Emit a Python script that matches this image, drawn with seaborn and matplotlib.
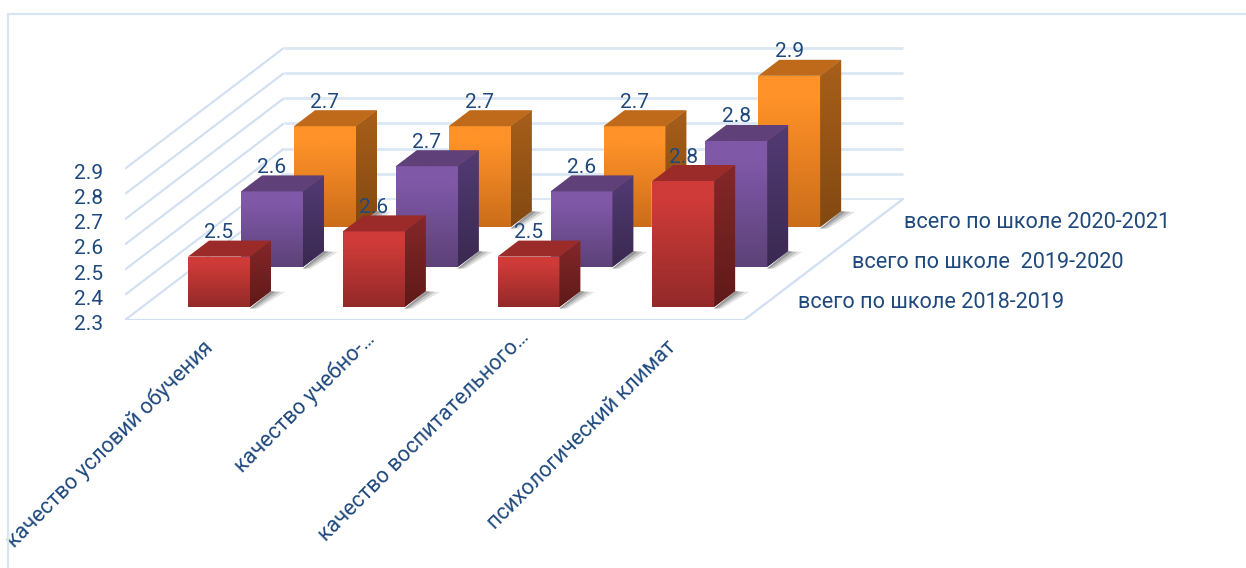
import matplotlib
matplotlib.use("Agg")
import matplotlib.pyplot as plt
import numpy as np
import pandas as pd
import seaborn as sns
from matplotlib.colors import LinearSegmentedColormap
from matplotlib.lines import Line2D
from matplotlib.patches import Polygon
from matplotlib.transforms import ScaledTranslation

categories = ["качество условий обучения", "качество учебно-…",
              "качество воспитательного…", "психологический климат"]
series_names = ["всего по школе 2018-2019", "всего по школе  2019-2020", "всего по школе 2020-2021"]
values_2018 = [2.5, 2.6, 2.5, 2.8]
values_2019 = [2.6, 2.7, 2.6, 2.8]
values_2020 = [2.7, 2.7, 2.7, 2.9]
value_ticks = [2.3, 2.4, 2.5, 2.6, 2.7, 2.8, 2.9]

# front / side / top colours, each (upper, lower)
styles = [
    dict(front=("#CE3B38", "#932A29"), side=("#84272A", "#5F1A18"), top="#9B2B29"),
    dict(front=("#8058A8", "#5C4278"), side=("#523B74", "#3A2951"), top="#5F4079"),
    dict(front=("#FF9228", "#CB6D1A"), side=("#A85F1A", "#824911"), top="#BF691A"),
]
TEXT = "#1F497D"
GRID = "#DCE7F4"

W, H = 1246, 568
PX_X = 154.75     # pixels per category
PX_Y = 252.0      # pixels per value unit
STEP_X, STEP_Y = 53, 40       # offset between series rows
DEPTH_X, DEPTH_Y = 21, 16     # bar depth
WALL_X, WALL_Y = 159, 121     # wall offset

sns.set_theme(style="white")
plt.rcParams["font.family"] = ["Roboto", "DejaVu Sans"]
FS = 15

fig = plt.figure(figsize=(W / 100, H / 100), dpi=100)


def place(left, bottom, width, height, **kw):
    return fig.add_axes([left / W, 1 - bottom / H, width / W, height / H], **kw)


def shift(label, px, py):
    label.set_transform(label.get_transform() + ScaledTranslation(px / 100, py / 100, fig.dpi_scale_trans))


# frame
fig.add_artist(Line2D([8 / W, 8 / W], [0, 1 - 14 / H], color="#D6E4F3", lw=1.6))
fig.add_artist(Line2D([8 / W, 1], [1 - 14 / H, 1 - 14 / H], color="#D6E4F3", lw=1.6))

# walls and floor, on the value scale of the front plane
base = place(125, 320, 4 * PX_X + WALL_X + 300, 151.2 + WALL_Y + 10, zorder=0)
base.patch.set_alpha(0)
base.set_xlim(-0.5, 3.5 + (WALL_X + 300) / PX_X)
base.set_ylim(2.3, 2.9 + (WALL_Y + 10) / PX_Y)
wx, wy = WALL_X / PX_X, WALL_Y / PX_Y
for v in value_ticks:
    base.plot([-0.5, -0.5 + wx], [v, v + wy], color="#D0DFF1", lw=1.5, solid_capstyle="butt")
    base.plot([-0.5 + wx, 3.5 + wx], [v + wy, v + wy], color=GRID, lw=2.0 if v > 2.3 else 1.4,
              solid_capstyle="butt")
base.plot([-0.5, 3.5, 3.5 + wx], [2.3, 2.3, 2.3 + wy], color="#D0DFF1", lw=1.6)
sns.despine(ax=base, left=True, bottom=True)
base.set_yticks(value_ticks, [f"{v:.1f}" for v in value_ticks], color=TEXT, fontsize=FS)
base.set_xticks(range(4), categories, color=TEXT, fontsize=FS * 1.04, rotation=45,
                ha="right", va="top", rotation_mode="anchor")
base.tick_params(length=0, axis="y", pad=16)
base.tick_params(length=0, axis="x", pad=0)
label_shift = [(0, -17), (7, -8), (7, -7), (-1, -17)]
for lab, (sx, sy) in zip(base.get_xticklabels(), label_shift):
    shift(lab, sx, sy)
for lab in base.get_yticklabels():
    shift(lab, 0, -2.5)
for k, name in enumerate(series_names):
    base.text(3.5 + (k + 1) * STEP_X / PX_X + 1.5 / PX_X, 2.3 + (17 + STEP_Y * k) / PX_Y, name,
              color=TEXT, fontsize=FS * 1.04, va="center", ha="left")

# bars: one axes per series row, back row first
all_values = [values_2018, values_2019, values_2020]
dx, dy = DEPTH_X / PX_X, DEPTH_Y / PX_Y
grad = np.linspace(1, 0, 64).reshape(-1, 1)
for k in (2, 1, 0):
    st = styles[k]
    ax = place(141.6 + STEP_X * k, 307 - STEP_Y * k, 4 * PX_X, 0.9 * PX_Y, zorder=3 - k)
    ax.patch.set_alpha(0)
    df = pd.DataFrame({"cat": categories, "val": all_values[k]})
    sns.barplot(data=df, x="cat", y="val", order=categories, color=st["front"][0], saturation=1,
                width=0.4, ax=ax, legend=False, errorbar=None)
    ax.set_xlim(-0.5, 3.5)
    ax.set_ylim(2.3, 3.2)
    cm_front = LinearSegmentedColormap.from_list(
        "f", [(0, st["front"][1]), (0.85, st["front"][0]), (1, st["front"][0])])
    cm_side = LinearSegmentedColormap.from_list("s", [st["side"][1], st["side"][0]])
    for p in list(ax.patches):
        x, w, v = p.get_x(), p.get_width(), p.get_height()
        # floor shadow
        for grow, a in ((1.0, 0.14), (0.65, 0.22), (0.3, 0.30)):
            ax.add_patch(Polygon(
                [(x - grow * 12 / PX_X, 2.3 - 1.5 / PX_Y), (x + w, 2.3 - 1.5 / PX_Y),
                 (x + w + dx, 2.3 + dy), (x + w + dx + grow * 14 / PX_X, 2.3 + dy - 1 / PX_Y),
                 (x + w + grow * 8 / PX_X, 2.3 - 1.5 / PX_Y)],
                closed=True, fc="#444444", ec="none", alpha=a, zorder=1, clip_on=False))
        p.set_zorder(2)
        im = ax.imshow(grad, extent=(x, x + w, 2.3, v), cmap=cm_front, aspect="auto", zorder=3,
                       vmin=0, vmax=1, interpolation="bilinear")
        im.set_clip_path(p)
        side = Polygon([(x + w, 2.3), (x + w + dx, 2.3 + dy), (x + w + dx, v + dy), (x + w, v)],
                       closed=True, fc=st["side"][0], ec="none", zorder=2)
        ax.add_patch(side)
        im2 = ax.imshow(grad, extent=(x + w, x + w + dx, 2.3, v + dy), cmap=cm_side, aspect="auto",
                        zorder=3, vmin=0, vmax=1, interpolation="bilinear")
        im2.set_clip_path(side)
        ax.add_patch(Polygon([(x, v), (x + w, v), (x + w + dx, v + dy), (x + dx, v + dy)],
                             closed=True, fc=st["top"], ec="none", zorder=3))
        ax.text(x + w / 2, v + dy + 2.5 / PX_Y, f"{v:.1f}", color=TEXT, fontsize=FS,
                ha="center", va="baseline", zorder=6, clip_on=False)
    ax.set_xlim(-0.5, 3.5)
    ax.set_ylim(2.3, 3.2)
    ax.axis("off")

fig.savefig("out.png", dpi=100, facecolor="white")
